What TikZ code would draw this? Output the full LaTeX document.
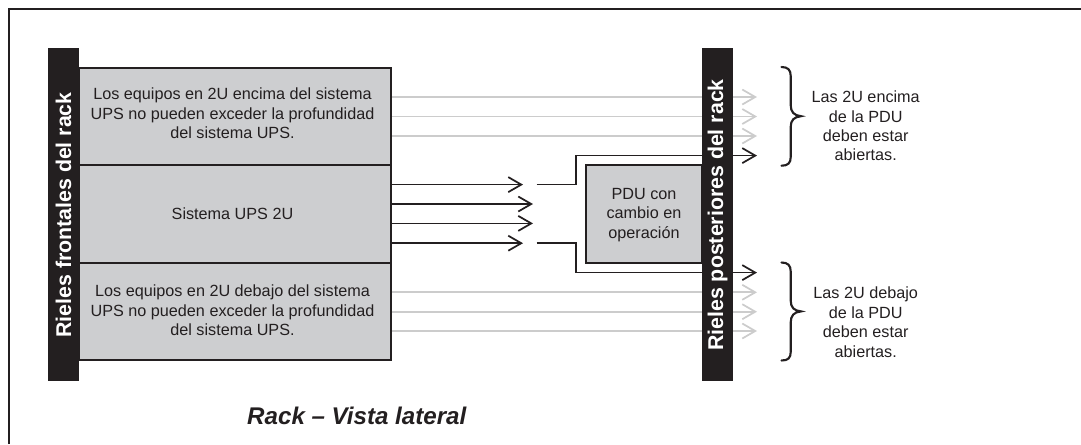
\documentclass[tikz,border=0pt]{standalone}
\usepackage{fontspec}
\setmainfont{Liberation Sans}
\usetikzlibrary{arrows.meta}
\definecolor{ink}{HTML}{231F20}
\definecolor{boxgray}{HTML}{CDCED0}
\definecolor{paleline}{HTML}{CCCCCC}
\tikzset{
  x=0.75pt,y=-0.75pt,
  panel/.style={draw=ink,line width=1.5pt,fill=boxgray},
  boxtext/.style={text=ink,font=\fontsize{12.15pt}{14.6pt}\selectfont,align=center},
  railbox/.style={fill=ink,draw=none},
  railtext/.style={text=white,font=\bfseries\fontsize{16pt}{18pt}\selectfont,rotate=90},
  barb/.style={-{Straight Barb[length=9.75pt,width=11.25pt,line width=1.3pt]}},
  darkarrow/.style={draw=ink,line width=1.3pt,barb},
  palearrow/.style={draw=paleline,line width=1.3pt,barb},
  bracepath/.style={draw=ink,line width=1.6pt,line cap=round},
}
\begin{document}
\begin{tikzpicture}
\useasboundingbox (0,0) rectangle (1081,444);
% frame: only its top and left sides fall inside the picture
\coordinate (fTL) at (8.5,8.5);
\coordinate (fTR) at (1081,8.5);
\coordinate (fBL) at (8.5,444);
\draw[ink,line width=1.5pt] (fBL) -- (fTL) -- (fTR);
% connector end points
\foreach \n/\y in {a/97,b/116.5,c/136,d/292.3,e/311.7,f/331}{
  \coordinate (\n0) at (390.5,\y);
  \coordinate (\n1) at (757,\y);
  \draw[palearrow] (\n0) -- (\n1);
}
% panels
\path[panel] (79,67.5) rectangle (390.5,165);
\path[panel] (79,165) rectangle (390.5,263);
\path[panel] (79,263) rectangle (390.5,360);
\node[boxtext] (t1) at (232.5,113.5) {Los equipos en 2U encima del sistema\\UPS no pueden exceder la profundidad\\del sistema UPS.};
\node[boxtext] (t2) at (232.5,214) {Sistema UPS 2U};
\node[boxtext] (t3) at (232.5,310.5) {Los equipos en 2U debajo del sistema\\UPS no pueden exceder la profundidad\\del sistema UPS.};
% PDU
\path[panel] (586,165) rectangle (702,263);
\node[boxtext] (pdu) at (644,215) {PDU con\\cambio en\\operación};
% dark arrows
\coordinate (g0) at (390.5,184.6);
\coordinate (g1) at (523,184.6);
\coordinate (h0) at (390.5,204);
\coordinate (h1) at (533,204);
\coordinate (i0) at (390.5,223.4);
\coordinate (i1) at (533,223.4);
\coordinate (j0) at (390.5,243.2);
\coordinate (j1) at (523,243.2);
\coordinate (k0) at (536.5,184.6);
\coordinate (k1) at (757,155.6);
\coordinate (l0) at (536.5,243.2);
\coordinate (l1) at (757,272.6);
\draw[darkarrow] (g0) -- (g1);
\draw[darkarrow] (h0) -- (h1);
\draw[darkarrow] (i0) -- (i1);
\draw[darkarrow] (j0) -- (j1);
\draw[darkarrow] (k0) -- (576,184.6) -- (576,155.6) -- (k1);
\draw[darkarrow] (l0) -- (576,243.2) -- (576,272.6) -- (l1);
% rails
\fill[railbox] (48,47.5) rectangle (79,380.5);
\fill[railbox] (702,47.5) rectangle (733,380.5);
\node[railtext] (r1) at (63.5,215) {Rieles frontales del rack};
\node[railtext] (r2) at (717.5,215) {Rieles posteriores del rack};
% braces
\draw[bracepath] (781.5,67) .. controls (788,67) and (790.7,70) .. (790.7,76) -- (790.7,105) .. controls (790.7,112) and (794,115.5) .. (801,116.2) .. controls (794,117) and (790.7,120) .. (790.7,127) -- (790.7,157) .. controls (790.7,163) and (788,165.7) .. (781.5,165.7);
\draw[bracepath] (781.5,262.5) .. controls (788,262.5) and (790.7,265.5) .. (790.7,271.5) -- (790.7,300.5) .. controls (790.7,307.5) and (794,310.7) .. (801,311.4) .. controls (794,312) and (790.7,315.5) .. (790.7,322.5) -- (790.7,352) .. controls (790.7,358) and (788,360.5) .. (781.5,360.5);
\node[boxtext] (n1) at (865.7,126) {Las 2U encima\\de la PDU\\deben estar\\abiertas.};
\node[boxtext] (n2) at (865.7,322) {Las 2U debajo\\de la PDU\\deben estar\\abiertas.};
\node[text=ink,font=\bfseries\itshape\fontsize{18.1pt}{20pt}\selectfont] (cap) at (356.8,416) {Rack – Vista lateral};
\end{tikzpicture}
\end{document}
